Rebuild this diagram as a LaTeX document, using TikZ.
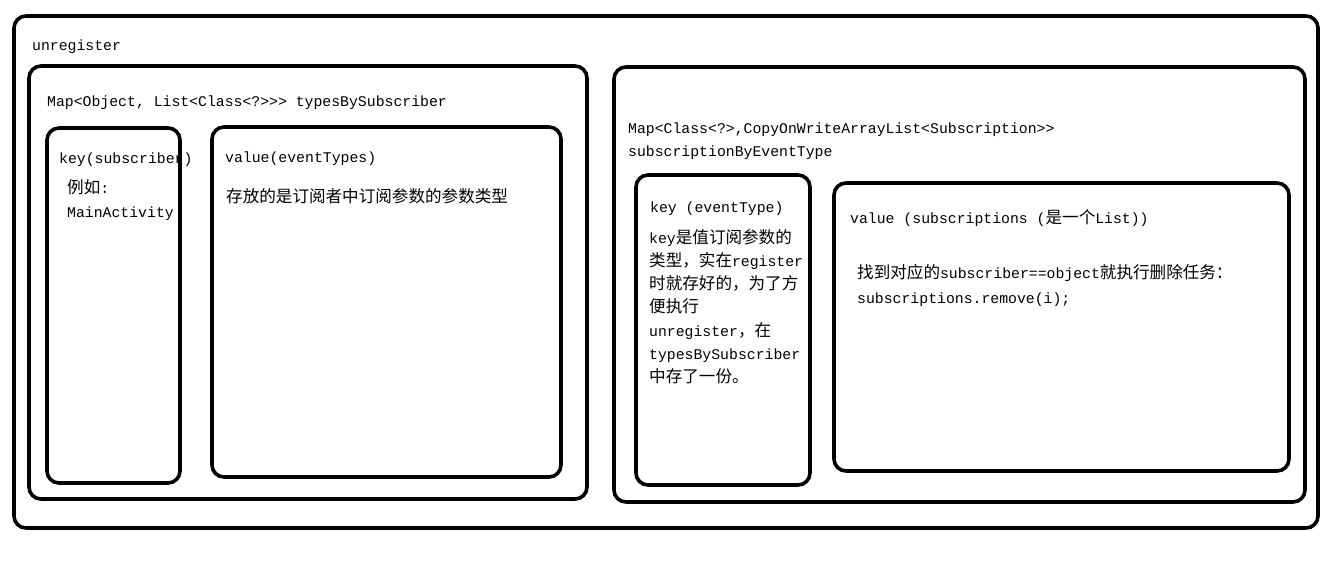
\documentclass[tikz,border=0pt]{standalone}
\usepackage{fontspec}
\setmainfont{Liberation Mono}[Ligatures=TeXOff]
\newfontfamily\cjk{Noto Sans CJK SC}[Scale=1.12]
\newcommand{\zh}[1]{{\cjk #1}}

\begin{document}
\begin{tikzpicture}[
  x=1pt,y=-1pt,
  font=\fontsize{14.8}{23}\selectfont,
  box/.style={draw,line width=3.6pt,rounded corners=12pt},
  txt/.style={anchor=base west,inner sep=0pt}
]
\useasboundingbox (0,0) rectangle (1328,576);

% Layout:
% outer frame: unregister
% left: typesBySubscriber (key, value)
% right: subscriptionByEventType (key, value)

%%%%%%%%%%%%%%%%%%%%%%%%%%%%%%%%%%%%%%%%%%%%%%%%%%%%
% Outer frame
%%%%%%%%%%%%%%%%%%%%%%%%%%%%%%%%%%%%%%%%%%%%%%%%%%%%
\draw[box] (14,16) rectangle (1318,528);
\node[txt] (U0) at (32,50) {unregister};

%%%%%%%%%%%%%%%%%%%%%%%%%%%%%%%%%%%%%%%%%%%%%%%%%%%%
% Left: typesBySubscriber
%%%%%%%%%%%%%%%%%%%%%%%%%%%%%%%%%%%%%%%%%%%%%%%%%%%%
\draw[box] (29,66) rectangle (587,499);
\node[txt] (L0) at (47,106) {Map<Object, List<Class<?>>> typesBySubscriber};

\node[txt] (LK1) at (59,163) {key(subscriber)};
\node[txt] (LK2) at (67,193) {\zh{例如}:};
\node[txt] (LK3) at (67,217) {MainActivity};
\draw[box] (47,128) rectangle (180,483);

\draw[box] (212,127) rectangle (561,477);
\node[txt] (LV1) at (225,162) {value(eventTypes)};
\node[txt] (LV2) at (226,202) {\zh{存放的是订阅者中订阅参数的参数类型}};

%%%%%%%%%%%%%%%%%%%%%%%%%%%%%%%%%%%%%%%%%%%%%%%%%%%%
% Right: subscriptionByEventType
%%%%%%%%%%%%%%%%%%%%%%%%%%%%%%%%%%%%%%%%%%%%%%%%%%%%
\draw[box] (614,67) rectangle (1305,502);
\node[txt] (R1) at (628,133) {Map<Class<?>,CopyOnWriteArrayList<Subscription>>};
\node[txt] (R2) at (628,156) {subscriptionByEventType};

\draw[box] (636,175) rectangle (810,485);
\node[txt] (RK1) at (650,212) {key (eventType)};
\node[txt] (RK2) at (649,243) {key\zh{是值订阅参数的}};
\node[txt] (RK3) at (649,266) {\zh{类型，实在}register};
\node[txt] (RK4) at (649,289) {\zh{时就存好的，为了方}};
\node[txt] (RK5) at (649,312) {\zh{便执行}};
\node[txt] (RK6) at (649,336) {unregister\zh{，在}};
\node[txt] (RK7) at (649,359) {typesBySubscriber};
\node[txt] (RK8) at (649,382) {\zh{中存了一份。}};

\draw[box] (834,183) rectangle (1289,471);
\node[txt] (RV1) at (850,223) {value (subscriptions (\zh{是一个}List))};
\node[txt] (RV2) at (857,278) {\zh{找到对应的}subscriber==object\zh{就执行删除任务：}};
\node[txt] (RV3) at (857,303) {subscriptions.remove(i);};

\end{tikzpicture}
\end{document}
